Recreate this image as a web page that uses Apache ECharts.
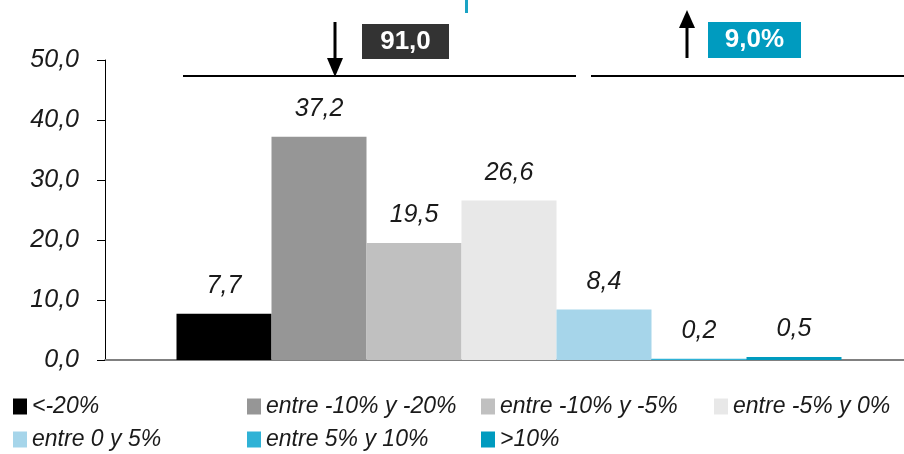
<!DOCTYPE html>
<html>
<head>
<meta charset="utf-8">
<script src="https://cdn.jsdelivr.net/npm/echarts@6/dist/echarts.min.js"></script>
<style>
  html, body { margin: 0; padding: 0; background: #fff; }
  #chart { width: 904px; height: 454px; }
</style>
</head>
<body>
<div id="chart"></div>
<script>
// categories / series
const seriesNames = ['<-20%', 'entre -10% y -20%', 'entre -10% y -5%', 'entre -5% y 0%', 'entre 0 y 5%', 'entre 5% y 10%', '>10%'];
const seriesValues = [7.7, 37.2, 19.5, 26.6, 8.4, 0.2, 0.5];
const seriesColors = ['#000000', '#969696', '#c0c0c0', '#e8e8e8', '#a6d5ea', '#2fb2d6', '#009bbf'];
const yTicks = [0, 10, 20, 30, 40, 50];
const downTotal = '91,0';
const upTotal = '9,0%';

// legend grid positions (columns x rows)
const legendPos = [[8, 390], [242, 390], [476, 390], [709, 390], [8, 423], [242, 423], [476, 423]];

const fmt = v => v.toFixed(1).replace('.', ',');
const FONT = 'Liberation Sans, Arial, sans-serif';

const chart = echarts.init(document.getElementById('chart'));

const option = {
    animation: false,
    grid: { left: 105, width: 808, top: 60, bottom: 94, outerBoundsMode: 'none', containLabel: false },
    xAxis: {
        type: 'category',
        data: [''],
        axisLine: { lineStyle: { color: '#808080', width: 2 } },
        axisTick: { show: false },
        axisLabel: { show: false }
    },
    yAxis: {
        type: 'value',
        min: yTicks[0],
        max: yTicks[yTicks.length - 1],
        interval: 10,
        splitLine: { show: false },
        axisLine: { show: true, lineStyle: { color: '#000', width: 1 } },
        axisTick: { show: true, length: 8, lineStyle: { color: '#000' } },
        axisLabel: {
            formatter: v => fmt(v),
            fontFamily: FONT,
            fontStyle: 'italic',
            fontSize: 25,
            color: '#1a1a1a',
            margin: 26
        }
    },
    legend: seriesNames.map((name, i) => ({
        data: [name],
        left: legendPos[i][0],
        top: legendPos[i][1],
        icon: 'rect',
        itemWidth: 14,
        itemHeight: 16,
        itemGap: 0,
        selectedMode: false,
        textStyle: { fontFamily: FONT, fontStyle: 'italic', fontSize: 23, color: '#1a1a1a', padding: [0, 0, 0, 0] }
    })),
    series: seriesNames.map((name, i) => ({
        name: name,
        type: 'bar',
        data: [seriesValues[i]],
        barWidth: 95,
        barGap: '0%',
        itemStyle: { color: seriesColors[i] },
        label: {
            show: true,
            position: 'top',
            distance: 15,
            formatter: p => fmt(p.value),
            fontFamily: FONT,
            fontStyle: 'italic',
            fontSize: 25,
            color: '#1a1a1a'
        }
    })),
    graphic: [
        // bit of the clipped title
        { type: 'rect', shape: { x: 465, y: 0, width: 3, height: 13 }, style: { fill: '#1aa3c4' } },
        // bracket lines
        { type: 'line', shape: { x1: 183, y1: 76, x2: 576, y2: 76 }, style: { stroke: '#000', lineWidth: 2 } },
        { type: 'line', shape: { x1: 591, y1: 76, x2: 904, y2: 76 }, style: { stroke: '#000', lineWidth: 2 } },
        // down arrow
        { type: 'line', shape: { x1: 335, y1: 22, x2: 335, y2: 64 }, style: { stroke: '#000', lineWidth: 3 } },
        { type: 'polygon', shape: { points: [[327, 58], [343, 58], [335, 77]] }, style: { fill: '#000' } },
        // up arrow
        { type: 'line', shape: { x1: 687, y1: 58, x2: 687, y2: 22 }, style: { stroke: '#000', lineWidth: 3 } },
        { type: 'polygon', shape: { points: [[679, 28], [695, 28], [687, 10]] }, style: { fill: '#000' } },
        // boxes
        { type: 'rect', shape: { x: 362, y: 24, width: 87, height: 35 }, style: { fill: '#333333' } },
        { type: 'text', x: 405.5, y: 42, style: { text: downTotal, fill: '#fff', font: 'bold 26px ' + FONT, align: 'center', verticalAlign: 'middle' } },
        { type: 'rect', shape: { x: 708, y: 22, width: 93, height: 36 }, style: { fill: '#009bbf' } },
        { type: 'text', x: 754.5, y: 40, style: { text: upTotal, fill: '#fff', font: 'bold 26px ' + FONT, align: 'center', verticalAlign: 'middle' } }
    ]
};

chart.setOption(option);
</script>
</body>
</html>
